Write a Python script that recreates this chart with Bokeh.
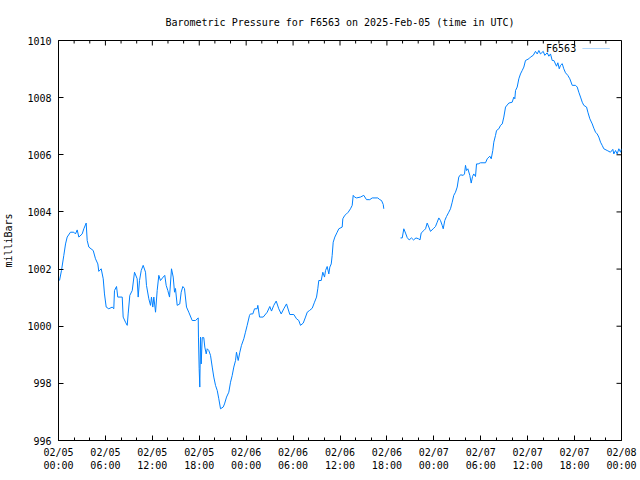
from bokeh.plotting import figure
from bokeh.models import Range1d, FixedTicker, Label, PolyAnnotation
from bokeh.embed import file_html
from bokeh.resources import INLINE

NaN = float("nan")

station = "F6563"
title_text = "Barometric Pressure for F6563 on 2025-Feb-05 (time in UTC)"
y_label = "milliBars"

# hours since 2025-02-05 00:00 UTC
hours = [
    0.13, 0.38, 0.68, 0.90, 1.11, 1.53, 1.96, 2.17, 2.39, 2.60, 3.03, 3.24, 3.54, 3.67, 3.88,
    4.44, 4.73, 5.03, 5.15, 5.46, 5.72, 5.88, 6.10, 6.43, 6.87, 7.07, 7.16, 7.42, 7.58, 8.15,
    8.27, 8.57, 8.79, 8.91, 9.12, 9.43, 9.72, 10.06, 10.19, 10.36, 10.58, 10.83, 11.13, 11.25,
    11.55, 11.77, 11.89, 12.06, 12.19, 12.41, 12.62, 12.83, 13.04, 13.39, 13.59, 13.77, 13.98,
    14.20, 14.45, 14.67, 14.84, 14.96, 15.18, 15.51, 15.69, 15.90, 16.11, 16.37, 16.66, 17.10,
    17.52, 17.87, 17.90, 17.99, 18.07, 18.16, 18.25, 18.38, 18.58, 18.71, 18.89, 19.02, 19.22,
    19.44, 19.66, 19.86, 20.08, 20.30, 20.50, 20.72, 21.06, 21.23, 21.49, 21.78, 22.00, 22.21,
    22.42, 22.64, 22.76, 22.98, 23.19, 23.40, 23.70, 23.91, 24.13, 24.43, 24.55, 24.85, 25.07,
    25.41, 25.49, 25.71, 26.18, 26.69, 27.02, 27.24, 27.53, 27.84, 28.17, 28.48, 28.81, 29.16,
    29.58, 30.09, 30.44, 30.73, 30.95, 31.30, 31.59, 31.81, 32.10, 32.45, 32.74, 33.00, 33.16,
    33.29, 33.60, 33.80, 34.02, 34.15, 34.36, 34.57, 34.70, 34.88, 35.00, 35.13, 35.34, 35.64,
    35.85, 36.28, 36.36, 36.61, 36.83, 37.05, 37.34, 37.56, 37.69, 37.86, 38.11, 38.62, 39.04,
    39.39, 39.81, 40.12, 40.83, 41.09, 41.31, 41.53, 41.60, 42.70,
    43.74, 43.96, 44.16, 44.38, 44.60, 44.85, 45.14, 45.40, 45.72, 46.04, 46.23, 46.38, 46.72,
    46.94, 47.15, 47.36, 47.57, 47.92, 48.21, 48.43, 48.64, 48.85, 49.07, 49.20, 49.40, 49.62,
    49.91, 50.13, 50.35, 50.55, 50.77, 50.99, 51.19, 51.41, 51.76, 51.92, 52.05, 52.18, 52.35,
    52.60, 52.78, 52.95, 53.11, 53.33, 53.46, 53.67, 53.97, 54.61, 54.83, 55.16, 55.34, 55.54,
    55.67, 55.89, 56.02, 56.31, 56.53, 56.75, 56.95, 57.17, 57.59, 58.02, 58.23, 58.36, 58.45,
    58.66, 58.87, 59.08, 59.30, 59.51, 59.72, 60.15, 60.36, 60.71, 61.00, 61.22, 61.43, 61.64,
    61.99, 62.19, 62.50, 62.71, 62.92, 63.14, 63.35, 63.69, 63.86, 64.04, 64.20, 64.42, 64.62,
    64.84, 65.13, 65.39, 65.70, 66.12, 66.34, 66.54, 66.76, 66.98, 67.18, 67.53, 67.70, 67.95,
    68.26, 68.46, 68.68, 68.89, 69.10, 69.32, 69.53, 69.74, 70.17, 70.59, 70.89, 71.02, 71.24,
    71.45, 71.66, 71.88, 72.00,
]

pressure_mb = [
    1001.60, 1001.95, 1002.48, 1002.88, 1003.12, 1003.29, 1003.29, 1003.23, 1003.37, 1003.12,
    1003.23, 1003.41, 1003.61, 1003.00, 1002.77, 1002.65, 1002.36, 1002.18, 1001.92, 1002.01,
    1001.66, 1001.13, 1000.67, 1000.61, 1000.67, 1000.61, 1001.25, 1001.39, 1001.02, 1001.02,
    1000.32, 1000.14, 1000.03, 1000.43, 1001.08, 1001.25, 1001.89, 1001.66, 1001.02, 1001.60,
    1001.95, 1002.13, 1001.89, 1001.43, 1000.96, 1000.73, 1001.02, 1000.67, 1001.02, 1000.49,
    1001.25, 1001.78, 1001.60, 1001.72, 1001.78, 1001.43, 1001.25, 1001.02, 1002.01, 1001.72,
    1001.19, 1001.32, 1000.73, 1000.78, 1001.19, 1001.39, 1001.32, 1000.67, 1000.49, 1000.20,
    1000.20, 1000.29, 999.62, 998.51, 997.87, 999.62, 998.68, 999.60, 999.60, 999.27, 999.03,
    999.21, 999.15, 998.98, 998.57, 998.22, 997.93, 997.75, 997.46, 997.11, 997.17, 997.28,
    997.52, 997.69, 998.04, 998.27, 998.57, 998.80, 999.09, 998.80, 999.09, 999.33, 999.56,
    999.79, 1000.03, 1000.38, 1000.43, 1000.43, 1000.61, 1000.61, 1000.73, 1000.32, 1000.32,
    1000.49, 1000.69, 1000.53, 1000.73, 1000.88, 1000.61, 1000.43, 1000.61, 1000.78, 1000.41,
    1000.41, 1000.26, 1000.20, 1000.03, 1000.11, 1000.32, 1000.49, 1000.55, 1000.63, 1000.84,
    1001.02, 1001.31, 1001.60, 1001.60, 1001.89, 1001.72, 1001.95, 1002.09, 1001.83, 1002.07,
    1002.18, 1002.48, 1002.94, 1003.12, 1003.29, 1003.41, 1003.47, 1003.76, 1003.88, 1003.93,
    1003.99, 1004.11, 1004.23, 1004.58, 1004.52, 1004.49, 1004.52, 1004.58, 1004.43, 1004.43,
    1004.49, 1004.49, 1004.43, 1004.40, 1004.26, 1004.11, NaN,
    1003.09, 1003.09, 1003.41, 1003.26, 1003.10, 1003.02, 1003.09, 1003.02, 1003.09, 1003.06,
    1003.02, 1003.26, 1003.35, 1003.41, 1003.61, 1003.47, 1003.32, 1003.41, 1003.49, 1003.64,
    1003.79, 1003.70, 1003.53, 1003.41, 1003.70, 1003.84, 1003.99, 1004.11, 1004.34, 1004.58,
    1004.69, 1004.87, 1005.22, 1005.30, 1005.28, 1005.33, 1005.63, 1005.45, 1005.51, 1005.28,
    1005.01, 1005.24, 1005.33, 1005.24, 1005.68, 1005.68, 1005.72, 1005.72, 1005.86, 1005.95,
    1005.86, 1006.15, 1006.44, 1006.68, 1006.85, 1006.91, 1007.03, 1007.08, 1007.32, 1007.67,
    1007.81, 1007.84, 1008.02, 1007.96, 1008.25, 1008.37, 1008.66, 1008.83, 1008.95, 1009.07,
    1009.30, 1009.36, 1009.42, 1009.48, 1009.62, 1009.53, 1009.65, 1009.53, 1009.62, 1009.48,
    1009.57, 1009.45, 1009.53, 1009.30, 1009.30, 1009.10, 1009.22, 1009.01, 1009.13, 1009.19,
    1009.01, 1008.87, 1008.78, 1008.66, 1008.43, 1008.43, 1008.37, 1008.19, 1008.02, 1007.84,
    1007.73, 1007.67, 1007.49, 1007.26, 1007.08, 1006.93, 1006.79, 1006.73, 1006.62, 1006.44,
    1006.33, 1006.21, 1006.15, 1006.09, 1006.19, 1006.03, 1006.15, 1006.03, 1006.21, 1006.09,
    1006.21,
]

x_tick_hours = [0, 6, 12, 18, 24, 30, 36, 42, 48, 54, 60, 66, 72]
x_tick_labels = [
    "02/05\n00:00", "02/05\n06:00", "02/05\n12:00", "02/05\n18:00",
    "02/06\n00:00", "02/06\n06:00", "02/06\n12:00", "02/06\n18:00",
    "02/07\n00:00", "02/07\n06:00", "02/07\n12:00", "02/07\n18:00",
    "02/08\n00:00",
]
x_minor_hours = list(range(0, 73, 2))
y_ticks = [996, 998, 1000, 1002, 1004, 1006, 1008, 1010]

FONT = "DejaVu Sans Mono"
LINE_COLOR = "#0080ff"
X0, X1, Y0, Y1 = 0, 72, 996, 1010
FRAME_W, FRAME_H = 563, 400
MAJ, MIN = 5, 3  # tick lengths in pixels
dx = (X1 - X0) / FRAME_W  # hours per pixel
dy = (Y1 - Y0) / FRAME_H  # mbar per pixel

p = figure(
    width=640, height=480,
    x_range=Range1d(X0, X1), y_range=Range1d(Y0, Y1),
    output_backend="svg", toolbar_location=None,
    min_border_left=58, min_border_right=19, min_border_top=40, min_border_bottom=40,
    title=title_text,
)
p.title.align = "center"
p.title.text_font = FONT
p.title.text_font_size = "10px"
p.title.text_font_style = "normal"
p.title.text_color = "black"
p.title.standoff = 25

p.xgrid.visible = False
p.ygrid.visible = False
p.outline_line_color = "black"
p.outline_line_width = 1
p.background_fill_color = "white"
p.border_fill_color = "white"

xa = p.xaxis[0]
xa.ticker = FixedTicker(ticks=x_tick_hours, minor_ticks=x_minor_hours)
xa.major_label_overrides = {h: lab for h, lab in zip(x_tick_hours, x_tick_labels)}
ya = p.yaxis[0]
ya.ticker = FixedTicker(ticks=y_ticks, minor_ticks=[])
ya.axis_label = y_label

for ax in (xa, ya):
    ax.major_tick_in = MAJ
    ax.major_tick_out = 0
    ax.minor_tick_in = MIN
    ax.minor_tick_out = 0
    ax.axis_line_color = "black"
    ax.major_tick_line_color = "black"
    ax.minor_tick_line_color = "black"
    ax.major_label_text_font = FONT
    ax.major_label_text_font_size = "10px"
    ax.major_label_text_color = "black"
    ax.axis_label_text_font = FONT
    ax.axis_label_text_font_size = "10px"
    ax.axis_label_text_font_style = "normal"
    ax.axis_label_text_color = "black"
xa.major_label_standoff = 6
ya.major_label_standoff = 7
ya.axis_label_standoff = 10

# mirrored ticks on the top and right borders (gnuplot style)
top_major = [h for h in x_tick_hours]
top_minor = [h for h in x_minor_hours if h not in x_tick_hours]
p.segment(x0=top_major, y0=[Y1] * len(top_major), x1=top_major,
          y1=[Y1 - MAJ * dy] * len(top_major), line_color="black", line_width=1)
p.segment(x0=top_minor, y0=[Y1] * len(top_minor), x1=top_minor,
          y1=[Y1 - MIN * dy] * len(top_minor), line_color="black", line_width=1)
p.segment(x0=[X1] * len(y_ticks), y0=y_ticks, x1=[X1 - MAJ * dx] * len(y_ticks),
          y1=y_ticks, line_color="black", line_width=1)

p.line(hours, pressure_mb, line_color=LINE_COLOR, line_width=1)

# gnuplot-style key: label then line sample
p.add_layout(Label(x=66.2, y=1009.72, text=station, text_font=FONT, text_font_size="10px",
                   text_align="right", text_baseline="middle", text_color="black"))
p.add_layout(PolyAnnotation(xs=[67.0, 70.5], ys=[1009.72, 1009.72], fill_alpha=0,
                            line_color=LINE_COLOR, line_width=1))

open("out.html", "w").write(file_html(p, INLINE))
